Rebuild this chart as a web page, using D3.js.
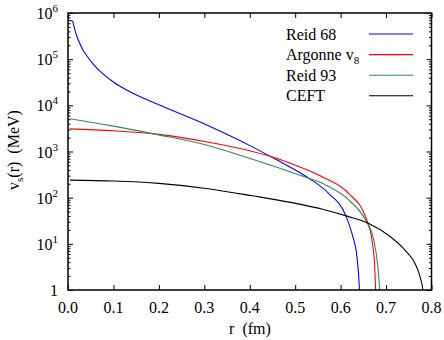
<!DOCTYPE html>
<head>
  <meta charset="utf-8">
  <script src="https://d3js.org/d3.v7.min.js"></script>
  <style>
    body { margin: 0; background: #fff; }
    svg { display: block; }
  </style>
</head>
<body>
  <svg width="444" height="340"></svg>
  <script>
    // data: r (fm) and log10 of v_s(r) (MeV)
    var seriesNames = ["Reid 68", "Argonne v8", "Reid 93", "CEFT"];
    var seriesColors = ["#0000ff", "#ff0000", "#2e8b57", "#000000"];

    var reid68R   = [0.004, 0.010, 0.013, 0.016, 0.020, 0.026, 0.033, 0.041, 0.055, 0.077, 0.099, 0.129, 0.20, 0.304, 0.406, 0.457, 0.509, 0.530, 0.574, 0.611, 0.625, 0.636, 0.641, 0.643];
    var reid68Log = [5.84, 5.82, 5.72, 5.60, 5.48, 5.34, 5.20, 5.08, 4.90, 4.68, 4.51, 4.33, 4.01, 3.58, 3.10, 2.83, 2.55, 2.42, 2.09, 1.62, 1.22, 0.71, 0.10, -0.4];

    var argonneR   = [0.004, 0.10, 0.20, 0.304, 0.406, 0.457, 0.509, 0.560, 0.618, 0.655, 0.669, 0.675, 0.677, 0.679];
    var argonneLog = [3.49, 3.45, 3.37, 3.21, 3.00, 2.86, 2.67, 2.45, 2.09, 1.58, 1.08, 0.50, 0.0, -0.4];

    var reid93R   = [0.004, 0.10, 0.20, 0.304, 0.406, 0.509, 0.560, 0.618, 0.655, 0.673, 0.682, 0.686, 0.688];
    var reid93Log = [3.71, 3.55, 3.36, 3.14, 2.83, 2.49, 2.31, 1.95, 1.51, 1.08, 0.50, 0.0, -0.4];

    var ceftR   = [0.004, 0.10, 0.20, 0.304, 0.406, 0.509, 0.560, 0.614, 0.662, 0.706, 0.742, 0.764, 0.775, 0.781, 0.783];
    var ceftLog = [2.38, 2.36, 2.31, 2.20, 2.04, 1.86, 1.75, 1.60, 1.44, 1.18, 0.86, 0.57, 0.28, 0.0, -0.4];

    var xTicks = [0, 0.1, 0.2, 0.3, 0.4, 0.5, 0.6, 0.7, 0.8];
    var yExps = [0, 1, 2, 3, 4, 5, 6];

    var series = [
      {r: reid68R, v: reid68Log},
      {r: argonneR, v: argonneLog},
      {r: reid93R, v: reid93Log},
      {r: ceftR, v: ceftLog}
    ];

    // layout
    var margin = {top: 13, right: 12, bottom: 50, left: 68};
    var width = 444, height = 340;
    var font = "'Liberation Serif'";
    var svg = d3.select('svg');

    var xScale = d3.scaleLinear()
      .domain([0, 0.8])
      .range([margin.left, width - margin.right - 0.5]);
    var yScale = d3.scaleLog()
      .domain([1, 1e6])
      .range([height - margin.bottom, margin.top]);

    svg.append('clipPath').attr('id', 'plot')
      .append('rect')
      .attr('x', margin.left).attr('y', margin.top)
      .attr('width', xScale(0.8) - margin.left)
      .attr('height', yScale(1) - margin.top);

    // curves
    var line = d3.line()
      .x(function(d) { return xScale(d[0]); })
      .y(function(d) { return yScale(Math.pow(10, d[1])); })
      .curve(d3.curveMonotoneX);

    svg.append('g').attr('clip-path', 'url(#plot)')
      .selectAll('path')
      .data(series)
      .enter().append('path')
      .attr('d', function(s) { return line(s.r.map(function(r, i) { return [r, s.v[i]]; })); })
      .attr('fill', 'none')
      .attr('stroke', function(s, i) { return seriesColors[i]; })
      .attr('stroke-width', 1.1);

    // minor log ticks
    var minor = [];
    yExps.slice(0, -1).forEach(function(e) {
      for (var k = 2; k < 10; k++) minor.push(k * Math.pow(10, e));
    });

    var axes = svg.append('g');
    var majors = yExps.map(function(e) { return Math.pow(10, e); });
    axes.append('g').attr('transform', 'translate(' + [margin.left, 0] + ')')
      .call(d3.axisLeft(yScale).tickValues(majors).tickSize(-5).tickFormat(''));
    axes.append('g').attr('transform', 'translate(' + [margin.left, 0] + ')')
      .call(d3.axisLeft(yScale).tickValues(minor).tickSize(-2.5).tickFormat(''));
    axes.append('g').attr('transform', 'translate(' + [xScale(0.8), 0] + ')')
      .call(d3.axisRight(yScale).tickValues(majors).tickSize(-5).tickFormat(''));
    axes.append('g').attr('transform', 'translate(' + [xScale(0.8), 0] + ')')
      .call(d3.axisRight(yScale).tickValues(minor).tickSize(-2.5).tickFormat(''));
    axes.append('g').attr('transform', 'translate(' + [0, yScale(1)] + ')')
      .call(d3.axisBottom(xScale).tickValues(xTicks).tickSize(-5).tickFormat(''));
    axes.append('g').attr('transform', 'translate(' + [0, yScale(1e6)] + ')')
      .call(d3.axisTop(xScale).tickValues(xTicks).tickSize(-5).tickFormat(''));
    axes.selectAll('.domain').remove();
    axes.selectAll('line').attr('stroke', '#000').attr('stroke-width', 1);

    // frame
    svg.append('rect')
      .attr('x', margin.left).attr('y', margin.top)
      .attr('width', xScale(0.8) - margin.left)
      .attr('height', yScale(1) - margin.top)
      .attr('fill', 'none').attr('stroke', '#000').attr('stroke-width', 1.5);

    // tick labels
    svg.append('g').selectAll('text')
      .data(xTicks)
      .enter().append('text')
      .style('font-family', font)
      .style('font-size', '16px')
      .attr('x', function(d) { return xScale(d); })
      .attr('y', yScale(1) + 23)
      .attr('text-anchor', 'middle')
      .text(function(d) { return d3.format('.1f')(d); });

    svg.append('g').selectAll('text')
      .data(yExps)
      .enter().append('text')
      .style('font-family', font)
      .style('font-size', '16px')
      .attr('x', 58)
      .attr('y', function(d) { return yScale(Math.pow(10, d)) + 6; })
      .attr('text-anchor', 'end')
      .each(function(d) {
        var t = d3.select(this);
        if (d === 0) { t.text('1'); return; }
        t.append('tspan').text('10');
        t.append('tspan').attr('dy', -7).style('font-size', '11px').text(d);
      });

    // axis titles
    svg.append('text')
      .style('font-family', font)
      .style('font-size', '16px')
      .attr('x', 250).attr('y', 334)
      .attr('text-anchor', 'middle')
      .attr('xml:space', 'preserve')
      .text('r  (fm)');

    var yt = svg.append('text')
      .style('font-family', font)
      .style('font-size', '16px')
      .attr('transform', 'translate(19,150) rotate(-90)')
      .attr('text-anchor', 'middle')
      .attr('xml:space', 'preserve');
    yt.append('tspan').text('v');
    yt.append('tspan').attr('dy', 4).style('font-size', '11px').text('s');
    yt.append('tspan').attr('dy', -4).text('(r)  (MeV)');

    // legend
    var legend = svg.append('g').selectAll('g')
      .data(seriesNames)
      .enter().append('g')
      .attr('transform', function(d, i) { return 'translate(0,' + (34 + i * 20.6) + ')'; });
    legend.append('line')
      .attr('x1', 369).attr('x2', 413).attr('y1', 0).attr('y2', 0)
      .attr('stroke', function(d, i) { return seriesColors[i]; })
      .attr('stroke-width', 1.1);
    legend.append('text')
      .style('font-family', font)
      .style('font-size', '16px')
      .attr('x', 286).attr('y', 5.5)
      .each(function(d) {
        var t = d3.select(this);
        if (d === 'Argonne v8') {
          t.append('tspan').text('Argonne v');
          t.append('tspan').attr('dy', 4).style('font-size', '11px').text('8');
        } else {
          t.text(d);
        }
      });
  </script>
</body>
